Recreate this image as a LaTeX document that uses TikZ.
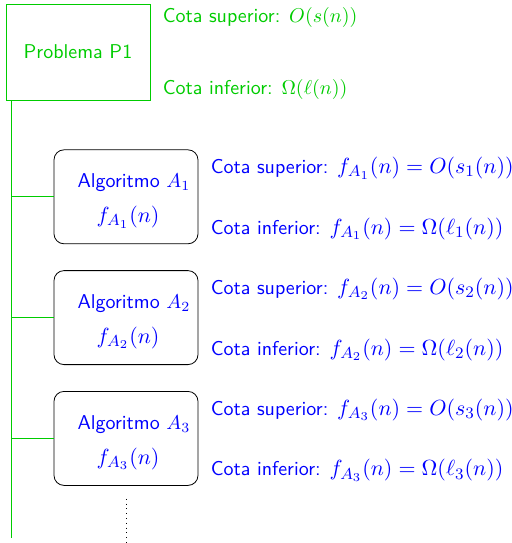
\documentclass[tikz,border=0pt]{standalone}
\usetikzlibrary{positioning}

\colorlet{probgreen}{green!80!black}
\newcommand{\cotam}[1]{{\fontsize{10.95}{13}\selectfont$#1$}}

\begin{document}
\begin{tikzpicture}[
    font=\sffamily,
    prob/.style  ={draw=probgreen, text=probgreen,
                   minimum width=72pt, minimum height=48pt},
    alg/.style   ={draw, rounded corners=5pt, text=blue, align=center,
                   minimum width=72pt, minimum height=47pt},
    bound/.style ={anchor=base west, inner sep=0pt},
    branch/.style={probgreen},
  ]
  \useasboundingbox (0,0) rectangle (256pt,-271.5pt);

  % --------------------------------------------------------------- problem ---
  \node[prob] (prob) at (39pt,-26pt) {Problema P1};
  \node[bound, text=probgreen] (sup0) at ([xshift=6pt,yshift=-9.5pt]prob.north east)
        {Cota superior: $O(s(n))$};
  \node[bound, text=probgreen] (inf0) at ([xshift=6pt,yshift=3pt]prob.south east)
        {Cota inferior: $\Omega(\ell(n))$};

  % ------------------------------------------------------------ algorithms ---
  \node[alg, below right=24.5pt and 24pt of prob.south west] (alg1)
        {\rule{0pt}{11pt}\hspace*{8pt}Algoritmo $A_1$\\[5.5pt]
         \hspace*{2pt}\cotam{f_{A_1}(n)}};
  \node[alg, below=13pt of alg1] (alg2)
        {\rule{0pt}{11pt}\hspace*{8pt}Algoritmo $A_2$\\[5.5pt]
         \hspace*{2pt}\cotam{f_{A_2}(n)}};
  \node[alg, below=13pt of alg2] (alg3)
        {\rule{0pt}{11pt}\hspace*{8pt}Algoritmo $A_3$\\[5.5pt]
         \hspace*{2pt}\cotam{f_{A_3}(n)}};

  % ---------------------------------------------------------------- bounds ---
  \node[bound, text=blue] (sup1) at ([xshift=6pt,yshift=-12pt]alg1.north east)
        {Cota superior: \cotam{f_{A_1}(n) = O(s_1(n))}};
  \node[bound, text=blue] (inf1) at ([xshift=6pt,yshift=5pt]alg1.south east)
        {Cota inferior: \cotam{f_{A_1}(n) = \Omega(\ell_1(n))}};
  \node[bound, text=blue] (sup2) at ([xshift=6pt,yshift=-12pt]alg2.north east)
        {Cota superior: \cotam{f_{A_2}(n) = O(s_2(n))}};
  \node[bound, text=blue] (inf2) at ([xshift=6pt,yshift=5pt]alg2.south east)
        {Cota inferior: \cotam{f_{A_2}(n) = \Omega(\ell_2(n))}};
  \node[bound, text=blue] (sup3) at ([xshift=6pt,yshift=-12pt]alg3.north east)
        {Cota superior: \cotam{f_{A_3}(n) = O(s_3(n))}};
  \node[bound, text=blue] (inf3) at ([xshift=6pt,yshift=5pt]alg3.south east)
        {Cota inferior: \cotam{f_{A_3}(n) = \Omega(\ell_3(n))}};

  % ----------------------------------------------------------------- trunk ---
  \coordinate (trunktop) at ([xshift=3pt]prob.south west);
  \coordinate[below=219pt of trunktop] (trunkend);
  \draw[branch] (trunktop) -- (trunkend);
  \draw[branch] (alg1.west) -- (alg1.west -| trunktop);
  \draw[branch] (alg2.west) -- (alg2.west -| trunktop);
  \draw[branch] (alg3.west) -- (alg3.west -| trunktop);

  % more algorithms
  \coordinate[below=6.5pt of alg3.south] (dotstart);
  \coordinate[below=23pt of dotstart] (dotend);
  \draw[dotted] (dotstart) -- (dotend);

\end{tikzpicture}
\end{document}
